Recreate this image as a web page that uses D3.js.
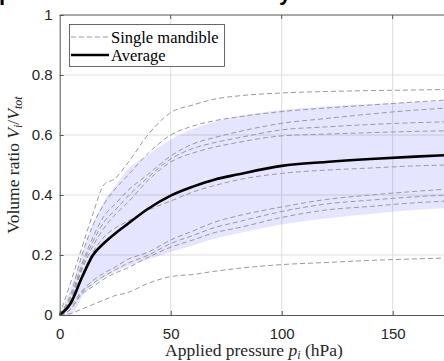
<!DOCTYPE html>
<html>
<head>
<meta charset="utf-8">
<script src="https://cdn.jsdelivr.net/npm/d3@7"></script>
<style>
  html, body { margin: 0; padding: 0; background: #fff; }
  svg { display: block; }
</style>
</head>
<body>
<div id="chart"></div>
<script>
// applied pressure steps (hPa)
const pressures = [0, 5, 10, 15, 20, 25, 30, 40, 50, 60, 70, 80, 100, 120, 140, 160, 175];

// single mandibles, volume ratio Vi/Vtot
const mandible1  = [0, 0.11, 0.225, 0.338, 0.435, 0.455, 0.50, 0.603, 0.675, 0.70, 0.72, 0.73, 0.74, 0.745, 0.748, 0.75, 0.752];
const mandible2  = [0, 0.07, 0.20, 0.30, 0.37, 0.42, 0.46, 0.54, 0.60, 0.63, 0.648, 0.66, 0.678, 0.69, 0.70, 0.71, 0.717];
const mandible3  = [0, 0.06, 0.17, 0.26, 0.33, 0.37, 0.41, 0.47, 0.53, 0.57, 0.592, 0.61, 0.639, 0.655, 0.67, 0.683, 0.69];
const mandible4  = [0, 0.05, 0.16, 0.245, 0.31, 0.35, 0.39, 0.46, 0.52, 0.555, 0.575, 0.59, 0.617, 0.627, 0.635, 0.641, 0.644];
const mandible5  = [0, 0.05, 0.15, 0.23, 0.29, 0.335, 0.37, 0.45, 0.51, 0.54, 0.56, 0.575, 0.597, 0.603, 0.608, 0.612, 0.614];
const mandible6  = [0, 0.04, 0.13, 0.21, 0.26, 0.29, 0.31, 0.35, 0.38, 0.41, 0.432, 0.45, 0.472, 0.483, 0.49, 0.497, 0.50];
const mandible7  = [0, 0.03, 0.08, 0.115, 0.14, 0.16, 0.183, 0.21, 0.25, 0.28, 0.31, 0.33, 0.36, 0.385, 0.40, 0.412, 0.42];
const mandible8  = [0, 0.02, 0.075, 0.105, 0.13, 0.15, 0.17, 0.20, 0.238, 0.265, 0.292, 0.31, 0.345, 0.37, 0.383, 0.394, 0.40];
const mandible9  = [0, 0.02, 0.07, 0.095, 0.12, 0.14, 0.155, 0.193, 0.226, 0.25, 0.275, 0.29, 0.325, 0.35, 0.362, 0.374, 0.38];
const mandible10 = [0, 0.005, 0.02, 0.035, 0.05, 0.065, 0.073, 0.106, 0.128, 0.135, 0.146, 0.155, 0.168, 0.175, 0.182, 0.187, 0.19];

// mean curve and its spread
const average  = [0, 0.04, 0.125, 0.20, 0.24, 0.272, 0.30, 0.355, 0.398, 0.428, 0.452, 0.468, 0.497, 0.51, 0.52, 0.528, 0.533];
const bandHigh = [0, 0.09, 0.20, 0.30, 0.38, 0.43, 0.48, 0.535, 0.585, 0.62, 0.645, 0.662, 0.683, 0.695, 0.703, 0.71, 0.713];
const bandLow  = [0, 0.0, 0.06, 0.10, 0.125, 0.145, 0.16, 0.185, 0.21, 0.232, 0.255, 0.272, 0.302, 0.322, 0.337, 0.35, 0.357];

const xTicks = [0, 50, 100, 150];
const yTicks = [0, 0.2, 0.4, 0.6, 0.8, 1];
const legendLabels = ['Single mandible', 'Average'];

const mandibles = [mandible1, mandible2, mandible3, mandible4, mandible5,
  mandible6, mandible7, mandible8, mandible9, mandible10];

let w = 444,
  h = 361,
  svg = d3.select('#chart').append('svg').attr('width', w).attr('height', h);

let x = d3.scaleLinear().domain([0, 175]).range([59.7, 448.2]),
  y = d3.scaleLinear().domain([0, 1]).range([315, 15]);

svg.append('rect').attr('width', w).attr('height', h).attr('fill', '#fff');

// title, mostly cut off by the top edge
svg.append('g')
  .selectAll('text')
  .data([{t: 'p', x: -1}, {t: 'y', x: 279}])
  .enter()
  .append('text')
  .attr('x', d => d.x)
  .attr('y', 0)
  .attr('font-family', 'Liberation Sans, Arial, sans-serif')
  .attr('font-weight', 'bold')
  .attr('font-size', 22)
  .text(d => d.t);

// grid
let grid = svg.append('g').attr('stroke', '#dedede').attr('stroke-width', 1);
grid.selectAll('.gx')
  .data(xTicks.filter(d => d > 0))
  .enter()
  .append('line')
  .attr('x1', d => x(d)).attr('x2', d => x(d))
  .attr('y1', y(0)).attr('y2', y(1));
grid.selectAll('.gy')
  .data(yTicks.filter(d => d > 0 && d < 1))
  .enter()
  .append('line')
  .attr('x1', x(0)).attr('x2', x(175))
  .attr('y1', d => y(d)).attr('y2', d => y(d));

// shaded spread
let area = d3.area()
  .x((d, i) => x(pressures[i]))
  .y0((d, i) => y(bandLow[i]))
  .y1(d => y(d))
  .curve(d3.curveMonotoneX);

svg.append('path')
  .attr('d', area(bandHigh))
  .attr('fill', '#0000ff')
  .attr('fill-opacity', 0.1);

let lineFun = d3.line()
  .x((d, i) => x(pressures[i]))
  .y(d => y(d))
  .curve(d3.curveMonotoneX);

svg.append('g')
  .selectAll('path')
  .data(mandibles)
  .enter()
  .append('path')
  .attr('d', d => lineFun(d))
  .attr('fill', 'none')
  .attr('stroke', '#9a9a9a')
  .attr('stroke-width', 1)
  .attr('stroke-dasharray', '5,3');

svg.append('path')
  .attr('d', lineFun(average))
  .attr('fill', 'none')
  .attr('stroke', '#000')
  .attr('stroke-width', 2.6);

// axes
let xAxis = d3.axisBottom(x).tickValues(xTicks).tickSizeInner(-4).tickSizeOuter(0).tickPadding(13),
  yAxis = d3.axisLeft(y).tickValues(yTicks).tickSizeInner(-4).tickSizeOuter(0).tickPadding(7)
    .tickFormat(d => d);

let gx = svg.append('g').attr('transform', 'translate(0,' + y(0) + ')').call(xAxis),
  gy = svg.append('g').attr('transform', 'translate(' + x(0) + ',0)').call(yAxis);

[gx, gy].forEach(g => {
  g.select('.domain').attr('stroke', '#555');
  g.selectAll('.tick line').attr('stroke', '#555');
  g.selectAll('.tick text')
    .attr('fill', '#262626')
    .attr('font-family', 'Liberation Sans, Arial, sans-serif')
    .attr('font-size', 15);
});

// top edge of the box, with ticks
svg.append('line')
  .attr('x1', x(0)).attr('x2', x(175))
  .attr('y1', y(1)).attr('y2', y(1))
  .attr('stroke', '#555');
svg.append('g')
  .selectAll('line')
  .data(xTicks.filter(d => d > 0))
  .enter()
  .append('line')
  .attr('x1', d => x(d)).attr('x2', d => x(d))
  .attr('y1', y(1)).attr('y2', y(1) + 4)
  .attr('stroke', '#555');

// axis labels
let serif = 'Liberation Serif, Times New Roman, serif';

let xl = svg.append('text')
  .attr('x', (x(0) + x(175)) / 2)
  .attr('y', 356)
  .attr('text-anchor', 'middle')
  .attr('font-family', serif)
  .attr('font-size', 17.5)
  .attr('fill', '#262626');
xl.append('tspan').text('Applied pressure ');
xl.append('tspan').attr('font-style', 'italic').text('p');
xl.append('tspan').attr('font-style', 'italic').attr('font-size', 12).attr('dy', 3).text('i');
xl.append('tspan').attr('dy', -3).text(' (hPa)');

let yl = svg.append('text')
  .attr('transform', 'translate(19,' + (y(0) + y(1)) / 2 + ') rotate(-90)')
  .attr('text-anchor', 'middle')
  .attr('font-family', serif)
  .attr('font-size', 17.5)
  .attr('fill', '#262626');
yl.append('tspan').text('Volume ratio ');
yl.append('tspan').attr('font-style', 'italic').text('V');
yl.append('tspan').attr('font-style', 'italic').attr('font-size', 12).attr('dy', 3).text('i');
yl.append('tspan').attr('dy', -3).text('/');
yl.append('tspan').attr('font-style', 'italic').text('V');
yl.append('tspan').attr('font-style', 'italic').attr('font-size', 12).attr('dy', 3).text('tot');

// legend
let legend = svg.append('g');
legend.append('rect')
  .attr('x', 69.5).attr('y', 24.5)
  .attr('width', 155).attr('height', 42)
  .attr('fill', '#fff')
  .attr('stroke', '#444')
  .attr('stroke-width', 0.8);

let items = legend.selectAll('g')
  .data(legendLabels)
  .enter()
  .append('g')
  .attr('transform', (d, i) => 'translate(0,' + (37 + i * 18) + ')');

items.append('line')
  .attr('x1', 71).attr('x2', 109)
  .attr('stroke', (d, i) => i === 0 ? '#9a9a9a' : '#000')
  .attr('stroke-width', (d, i) => i === 0 ? 1 : 2.6)
  .attr('stroke-dasharray', (d, i) => i === 0 ? '5,3' : null);

items.append('text')
  .attr('x', 111)
  .attr('y', 6)
  .attr('font-family', serif)
  .attr('font-size', 16.5)
  .attr('fill', '#000')
  .text(d => d);
</script>
</body>
</html>
